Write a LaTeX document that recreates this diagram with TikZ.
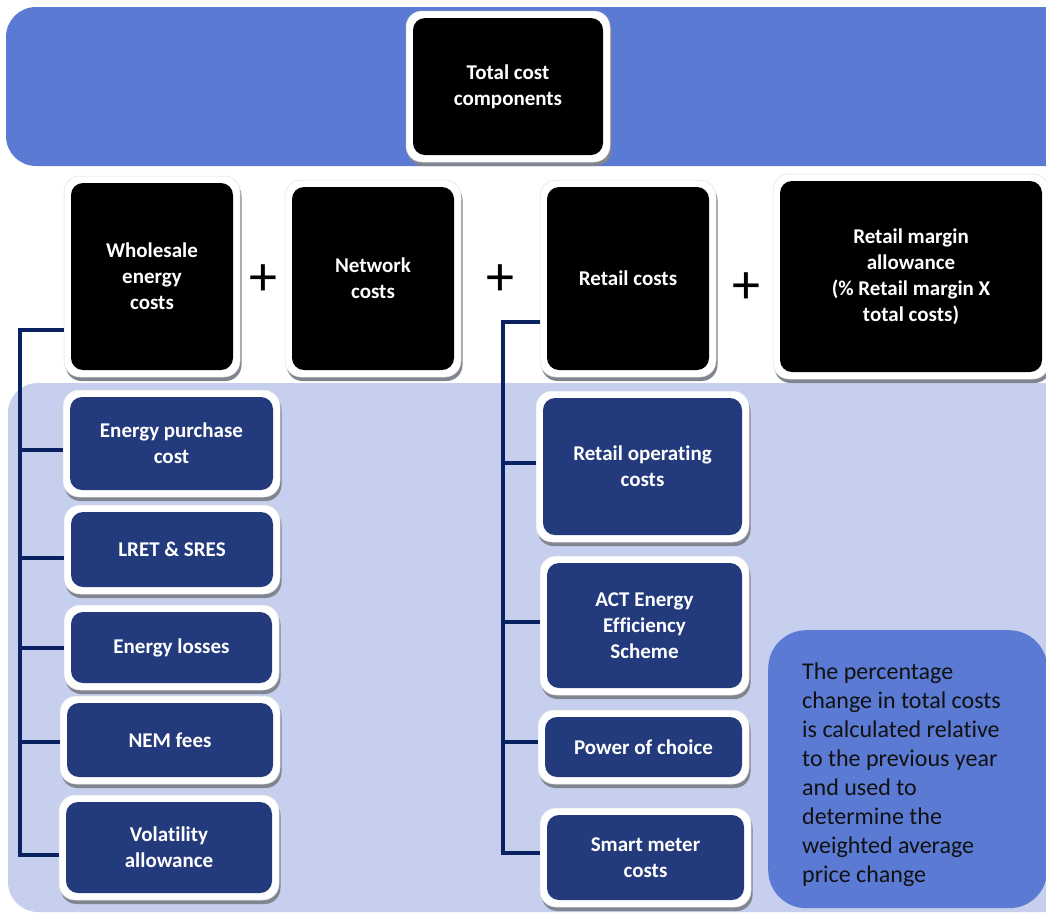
\documentclass[tikz,border=0pt]{standalone}
\usepackage{fontspec}
\setmainfont{Carlito}[Ligatures=NoCommon]
\usetikzlibrary{shadows}
\definecolor{bandblue}{HTML}{5A7AD4}
\definecolor{bandlight}{HTML}{C6CFEE}
\definecolor{subblue}{HTML}{233A7C}
\definecolor{busnavy}{HTML}{0A2262}
\definecolor{shadowgray}{HTML}{80858F}
\definecolor{notetext}{HTML}{111111}
\pgfdeclarelayer{bg}
\pgfsetlayers{bg,main}
\tikzset{
  sz/.style 2 args={minimum width=#1pt, minimum height=#2pt},
  boxbase/.style={rounded corners=16pt, fill=white, draw=black!12, line width=0.5pt,
    drop shadow={shadow xshift=1.5pt, shadow yshift=-4pt, fill=shadowgray, opacity=1},
    align=center, text=white, font=\bfseries\fontsize{21}{26}\selectfont, inner sep=0pt},
  blackbox/.style={boxbase, path picture={\fill[black, rounded corners=12pt]
    ([shift={(7pt,7pt)}]path picture bounding box.south west) rectangle
    ([shift={(-7pt,-7pt)}]path picture bounding box.north east);}},
  subbox/.style={boxbase, path picture={\fill[subblue, rounded corners=12pt]
    ([shift={(7pt,7pt)}]path picture bounding box.south west) rectangle
    ([shift={(-7pt,-7pt)}]path picture bounding box.north east);}},
  band/.style={rounded corners=30pt},
  notebox/.style={fill=bandblue, rounded corners=38pt, inner sep=0pt},
  notetxt/.style={text=notetext, align=left, font=\fontsize{24}{29}\selectfont, inner sep=0pt},
  plussign/.style={text=black, font=\fontsize{56}{56}\selectfont, inner sep=0pt},
  bus/.style={draw=busnavy, line width=3.2pt},
}
\begin{document}
\begin{tikzpicture}[x=1pt, y=-1pt]
\useasboundingbox (0,0) rectangle (1046,914);
\begin{pgfonlayer}{bg}
  \fill[bandblue, band] (6,7) rectangle (1090,166);
  \fill[bandlight, band] (8,383) rectangle (1090,912);
\end{pgfonlayer}

% top
\node[blackbox, sz={204}{151}] (tcc) at (508,86.5) {Total cost\\components};

% second row
\node[blackbox, sz={176}{201}] (wec) at (152,276.5) {Wholesale\\energy\\costs};
\node[blackbox, sz={176}{197}] (net) at (373,278.5) {Network\\costs};
\node[blackbox, sz={176}{197}] (ret) at (628,278.5) {Retail costs};
\node[blackbox, sz={276}{205}] (rma) at (911,276.5) {Retail margin\\allowance\\(\% Retail margin X\\total costs)};

\node[plussign] (pl1) at (263,280) {+};
\node[plussign] (pl2) at (500,280) {+};
\node[plussign] (pl3) at (746,288) {+};

% wholesale components
\node[subbox, sz={217}{107}] (epc) at (171.5,443.5) {Energy purchase\\cost};
\node[subbox, sz={216}{89}] (lret) at (172,549.5) {LRET \& SRES};
\node[subbox, sz={215}{85}] (eloss) at (171.5,647.5) {Energy losses};
\node[subbox, sz={220}{88}] (nem) at (170,740) {NEM fees};
\node[subbox, sz={220}{105}] (vol) at (169,847.5) {Volatility\\allowance};

% retail components
\node[subbox, sz={213}{151}] (rop) at (642.5,466.5) {Retail operating\\costs};
\node[subbox, sz={209}{139}] (act) at (644.5,625.5) {ACT Energy\\Efficiency\\Scheme};
\node[subbox, sz={211}{74}] (poc) at (643.5,747) {Power of choice};
\node[subbox, sz={211}{99}] (smc) at (645.5,857.5) {Smart meter\\costs};

% note
\node[notebox, sz={279}{278}, anchor=north west] (note) at (768,630) {};
\node[notetxt, anchor=west] (notetext) at (802,775)
  {The percentage\\change in total costs\\is calculated relative\\to the previous year\\and used to\\determine the\\weighted average\\price change};

% left bus
\coordinate (lt) at (20,330);
\coordinate (lb) at (20,855);
\draw[bus] (wec.west |- lt) -- (lt) -- (lb) -- (vol.west |- lb);
\foreach \n/\y in {epc/450, lret/558, eloss/648, nem/742} {
  \coordinate (lb-\n) at (20,\y);
  \draw[bus] (lb-\n) -- (\n.west |- lb-\n);
}
% right bus
\coordinate (rt) at (503,322);
\coordinate (rb) at (503,853);
\draw[bus] (ret.west |- rt) -- (rt) -- (rb) -- (smc.west |- rb);
\foreach \n/\y in {rop/463, act/622, poc/742} {
  \coordinate (rb-\n) at (503,\y);
  \draw[bus] (rb-\n) -- (\n.west |- rb-\n);
}
\end{tikzpicture}
\end{document}
